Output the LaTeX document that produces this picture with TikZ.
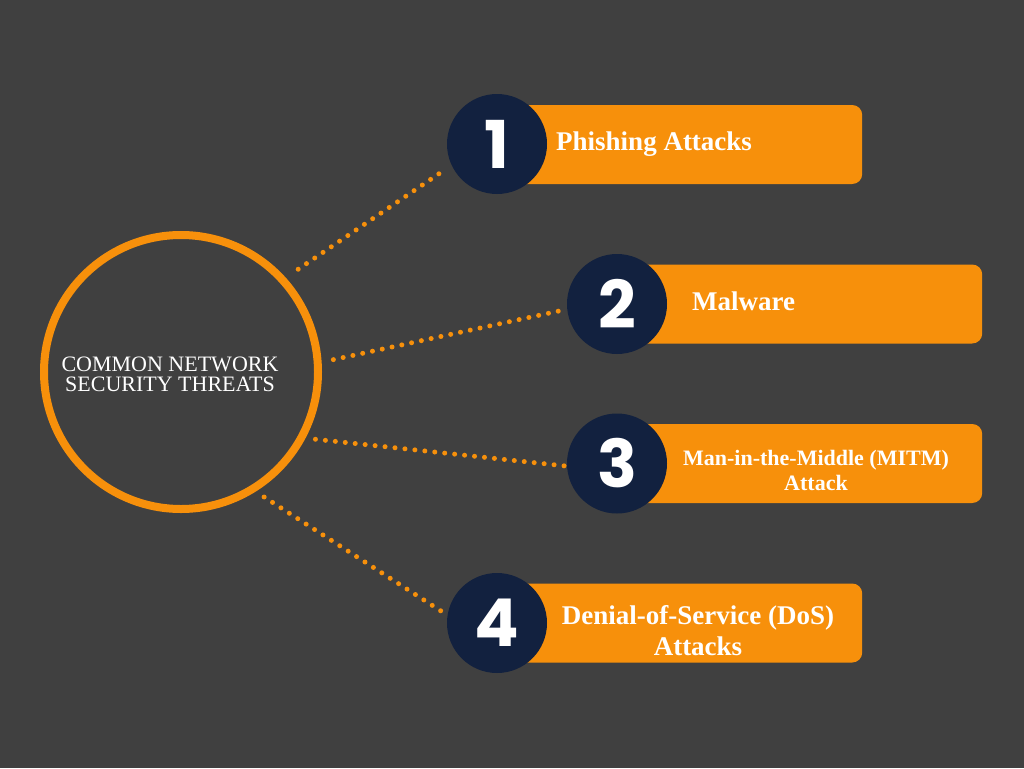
\documentclass[tikz,border=0pt]{standalone}
\usepackage{fontspec}
\setmainfont{Liberation Serif}
\newfontfamily\numfont{Poppins}
\usetikzlibrary{positioning}

\definecolor{slate}{HTML}{404040}
\definecolor{amber}{HTML}{F7900B}
\definecolor{navy}{HTML}{12213F}

\begin{document}
\begin{tikzpicture}[
    x=1pt, y=-1pt,
    hub/.style={draw=amber, line width=8pt, circle, minimum size=274pt, inner sep=0pt},
    hubtext/.style={align=center, text=white, font=\fontsize{22}{20}\selectfont},
    num/.style={circle, fill=navy, minimum size=100pt, inner sep=0pt, text=white, font=\numfont\bfseries\fontsize{66}{66}\selectfont},
    bar/.style={rectangle, fill=amber, rounded corners=10pt, minimum width=365pt, minimum height=79pt, anchor=west},
    bartext/.style={text=white, align=center, inner sep=0pt, font=\bfseries\fontsize{27}{31}\selectfont},
    link/.style={amber, line width=5pt, line cap=round, dash pattern=on 0pt off 10pt}
]
\fill[slate] (0,0) rectangle (1024,768);

% centre circle
\node[hub] (hub) at (181,372) {};
\node[hubtext] (title) at (170,374) {COMMON NETWORK\\SECURITY THREATS};

% bars
\node[bar] (b1) at (497,144.5) {};
\node[bar] (b2) at (617,304) {};
\node[bar] (b3) at (617,463.5) {};
\node[bar] (b4) at (497,623) {};

% numbers
\node[num] (n1) at (497,144) {1};
\node[num] (n2) at (617,304) {2};
\node[num] (n3) at (617,463.5) {3};
\node[num] (n4) at (497,623) {4};

% labels
\node[bartext, anchor=base west] (t1) at (556,150) {Phishing Attacks};
\node[bartext, anchor=base west] (t2) at (692,310) {Malware};
\node[bartext, font=\bfseries\fontsize{22}{25}\selectfont] (t3) at (816,470) {Man-in-the-Middle (MITM)\\Attack};
\node[bartext] (t4) at (698,631) {Denial-of-Service (DoS)\\Attacks};

% dotted links
\draw[link, shorten <=15pt, shorten >=9pt] (hub.42) -- (n1.205);
\draw[link, shorten <=12pt, shorten >=8pt] (hub.4) -- (n2.186);
\draw[link, shorten <=10pt, shorten >=0pt] (hub.332) -- (n3.183);
\draw[link, shorten <=10pt, shorten >=4pt] (hub.302) -- (n4.171);
\end{tikzpicture}
\end{document}
